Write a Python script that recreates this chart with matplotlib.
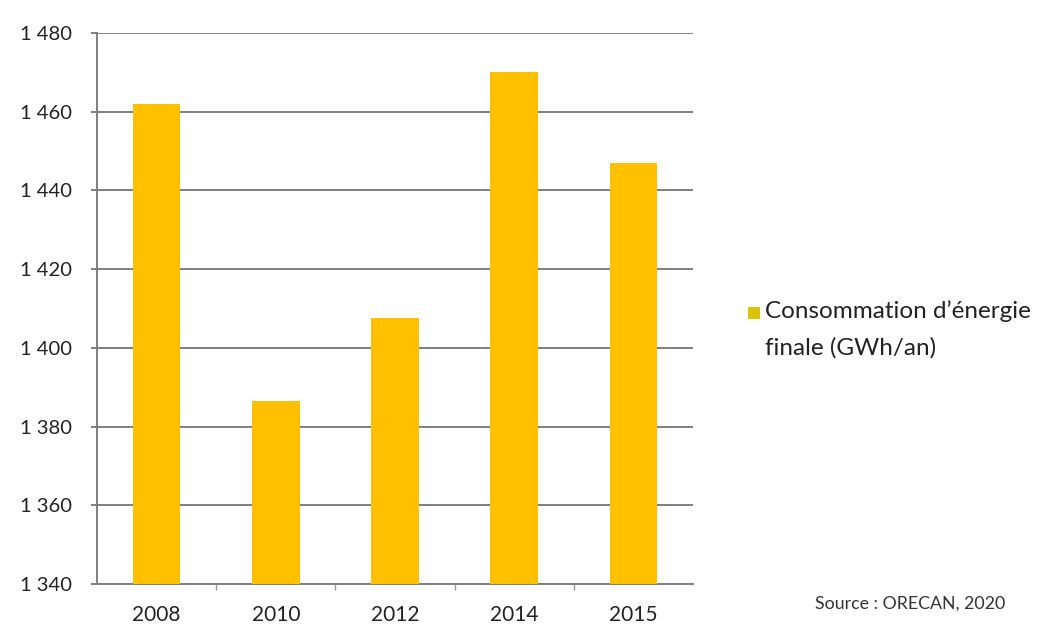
import matplotlib
matplotlib.use("Agg")
import matplotlib.pyplot as plt
from matplotlib.patches import Rectangle
from matplotlib.ticker import FuncFormatter

years = ["2008", "2010", "2012", "2014", "2015"]
consumption = [1462, 1386.5, 1407.5, 1470, 1447]
y_ticks = [1340, 1360, 1380, 1400, 1420, 1440, 1460, 1480]
legend_label = "Consommation d\u2019énergie\nfinale (GWh/an)"
source_text = "Source : ORECAN, 2020"

plt.rcParams["font.family"] = ["Lato", "DejaVu Sans"]

W, H = 1041, 628
fig = plt.figure(figsize=(W / 100, H / 100), dpi=100)
ax = fig.add_axes([97 / W, 1 - 584 / H, 596 / W, 551 / H])

x = range(len(years))
bar_color = "#FFC000"
ax.bar(x, consumption, width=0.4, color=bar_color, zorder=3)

ax.set_xlim(-0.5, len(years) - 0.5)
ax.set_ylim(1340, 1480)
ax.set_yticks(y_ticks)
ax.yaxis.set_major_formatter(FuncFormatter(lambda v, _: f"{int(v):,}".replace(",", " ")))
ax.set_xticks(list(x))
ax.set_xticklabels(years)

grid_color = "#7f7f7f"
ax.yaxis.grid(True, color=grid_color, linewidth=1.4, zorder=0)
for side in ("top", "right"):
    ax.spines[side].set_visible(False)
ax.spines["left"].set_color(grid_color)
ax.spines["left"].set_linewidth(1.4)
ax.spines["bottom"].set_color(grid_color)
ax.spines["bottom"].set_linewidth(1.4)

ax.tick_params(axis="y", length=4, width=1.4, color=grid_color, pad=14,
               labelsize=14.5, labelcolor="#222222")
ax.tick_params(axis="x", length=0, pad=15, labelsize=15, labelcolor="#222222")
# small separators between categories on the baseline
ax.set_xticks([i + 0.5 for i in range(len(years) - 1)], minor=True)
ax.tick_params(axis="x", which="minor", length=4, width=1.0, color="#9a9a9a")

# legend key and label
fig.add_artist(Rectangle((748 / W, 1 - 319 / H), 12 / W, 12 / H,
                         transform=fig.transFigure, facecolor="#D8C400",
                         edgecolor="none"))
fig.text(765 / W, 1 - 300 / H, legend_label, fontsize=17.5, color="#222222",
         ha="left", va="top", linespacing=1.85)

fig.text(815 / W, 1 - 604 / H, source_text, fontsize=12.8, color="#333333",
         va="center")

fig.savefig("out.png", dpi=100, facecolor="white")
